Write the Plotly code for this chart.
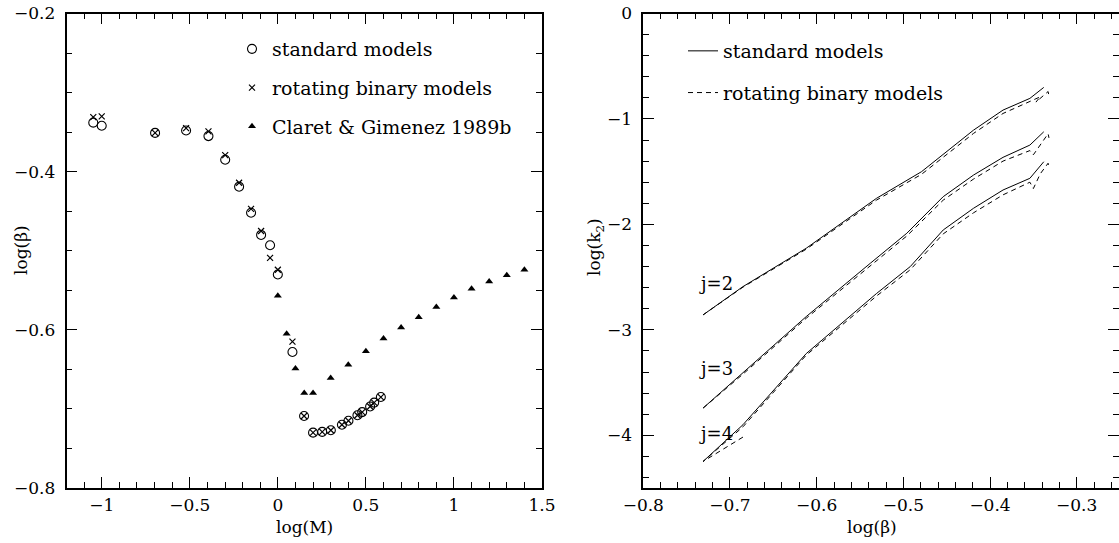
import plotly.graph_objects as go

# ---------------- Left panel data ----------------
std_logM = [-1.048, -1.0, -0.697, -0.521, -0.394, -0.299, -0.220, -0.152, -0.095, -0.044,
            0.0, 0.083, 0.149, 0.200, 0.252, 0.301, 0.364, 0.401, 0.452, 0.479, 0.524, 0.547, 0.585]
std_logb = [-0.338, -0.342, -0.351, -0.348, -0.355, -0.385, -0.419, -0.452, -0.480, -0.493,
            -0.530, -0.628, -0.709, -0.730, -0.729, -0.727, -0.720, -0.715, -0.708, -0.704, -0.697, -0.692, -0.685]

rot_logM = [-1.048, -1.0, -0.697, -0.521, -0.394, -0.299, -0.220, -0.152, -0.095, -0.044,
            0.0, 0.083, 0.149, 0.200, 0.252, 0.301, 0.364, 0.401, 0.452, 0.479, 0.524, 0.547, 0.585]
rot_logb = [-0.331, -0.330, -0.351, -0.345, -0.349, -0.379, -0.414, -0.447, -0.475, -0.509,
            -0.524, -0.615, -0.709, -0.730, -0.729, -0.727, -0.720, -0.715, -0.708, -0.704, -0.697, -0.692, -0.685]

cg_logM = [0.0, 0.05, 0.1, 0.15, 0.2, 0.3, 0.4, 0.5, 0.6, 0.7, 0.8, 0.9, 1.0, 1.1, 1.2, 1.3, 1.4]
cg_logb = [-0.557, -0.605, -0.649, -0.680, -0.680, -0.661, -0.644, -0.627, -0.611, -0.597,
           -0.584, -0.571, -0.559, -0.548, -0.539, -0.531, -0.524]

# ---------------- Right panel data ----------------
j2_std_b = [-0.731, -0.685, -0.612, -0.531, -0.479, -0.419, -0.385, -0.354, -0.338]
j2_std_k = [-2.858, -2.590, -2.226, -1.753, -1.500, -1.106, -0.916, -0.805, -0.701]
j2_rot_b = [-0.731, -0.685, -0.612, -0.531, -0.479, -0.419, -0.385, -0.354, -0.342, -0.347, -0.333, -0.332]
j2_rot_k = [-2.858, -2.595, -2.235, -1.770, -1.525, -1.137, -0.948, -0.837, -0.790, -0.840, -0.740, -0.780]

j3_std_b = [-0.731, -0.685, -0.612, -0.538, -0.496, -0.454, -0.419, -0.385, -0.354, -0.338]
j3_std_k = [-3.742, -3.410, -2.874, -2.368, -2.084, -1.737, -1.532, -1.364, -1.248, -1.122]
j3_rot_b = [-0.731, -0.685, -0.612, -0.538, -0.496, -0.454, -0.419, -0.385, -0.354, -0.350, -0.342, -0.333, -0.332]
j3_rot_k = [-3.742, -3.420, -2.890, -2.390, -2.110, -1.770, -1.570, -1.400, -1.300, -1.340, -1.240, -1.140, -1.180]

j4_std_b = [-0.731, -0.685, -0.612, -0.531, -0.492, -0.454, -0.419, -0.385, -0.354, -0.338]
j4_std_k = [-4.248, -3.900, -3.225, -2.656, -2.400, -2.053, -1.847, -1.674, -1.563, -1.406]
j4_rot_b = [-0.685, -0.731, -0.685, -0.612, -0.531, -0.492, -0.454, -0.419, -0.385, -0.354, -0.350, -0.342, -0.333, -0.332]
j4_rot_k = [-4.017, -4.248, -3.920, -3.240, -2.680, -2.430, -2.090, -1.890, -1.720, -1.600, -1.660, -1.520, -1.420, -1.470]

j_labels = ["j=2", "j=3", "j=4"]
j_label_k = [-2.558, -3.363, -3.979]

FONT = "DejaVu Serif"
W, H = 1119, 543

fig = go.Figure()

# Left panel
fig.add_trace(go.Scatter(x=std_logM, y=std_logb, mode="markers", name="standard models",
                         marker=dict(symbol="circle-open", size=9, color="black", line=dict(width=1.1)),
                         xaxis="x", yaxis="y", legend="legend", legendgroup="a"))
fig.add_trace(go.Scatter(x=rot_logM, y=rot_logb, mode="markers", name="rotating binary models",
                         marker=dict(symbol="x-thin", size=6, color="black", line=dict(width=1.2, color="black")),
                         xaxis="x", yaxis="y", legend="legend", legendgroup="b"))
fig.add_trace(go.Scatter(x=cg_logM, y=cg_logb, mode="markers", name="Claret & Gimenez 1989b",
                         marker=dict(symbol="triangle-up", size=7, color="black"),
                         xaxis="x", yaxis="y", legend="legend", legendgroup="c"))

# Right panel
dash = "5px,4px"
curves = [
    (j2_std_b, j2_std_k, j2_rot_b, j2_rot_k),
    (j3_std_b, j3_std_k, j3_rot_b, j3_rot_k),
    (j4_std_b, j4_std_k, j4_rot_b, j4_rot_k),
]
for i, (sb, sk, rb, rk) in enumerate(curves):
    fig.add_trace(go.Scatter(x=sb, y=sk, mode="lines", name="standard models",
                             line=dict(color="black", width=1),
                             xaxis="x2", yaxis="y2", legend="legend2", legendgroup="std",
                             showlegend=(i == 0)))
    fig.add_trace(go.Scatter(x=rb, y=rk, mode="lines", name="rotating binary models",
                             line=dict(color="black", width=1, dash=dash),
                             xaxis="x2", yaxis="y2", legend="legend2", legendgroup="rot",
                             showlegend=(i == 0)))

y_dom = [(H - 488) / H, (H - 13.5) / H]

def axis(domain, rng, dtick, minor_dtick, anchor, standoff):
    return dict(domain=domain, range=rng, dtick=dtick, tick0=0, anchor=anchor,
                ticks="inside", ticklen=11, tickwidth=1, tickcolor="black",
                showline=True, linecolor="black", linewidth=1.5, mirror="allticks",
                showgrid=False, zeroline=False, automargin=False,
                tickfont=dict(family=FONT, size=17, color="black"),
                ticklabelstandoff=standoff,
                minor=dict(ticks="inside", ticklen=6, tickwidth=1, tickcolor="black",
                           dtick=minor_dtick, tick0=0, showgrid=False))

fig.update_layout(
    width=W, height=H,
    margin=dict(l=0, r=0, t=0, b=0),
    paper_bgcolor="white", plot_bgcolor="white",
    xaxis=axis([66.5 / W, 542 / W], [-1.2, 1.5], 0.5, 0.1, "y", 1),
    yaxis=axis(y_dom, [-0.8, -0.2], 0.2, 0.05, "x", 6),
    xaxis2=axis([643.3 / W, 1.0], [-0.8, -0.2512], 0.1, 0.02, "y2", 1),
    yaxis2=axis(y_dom, [-4.5, 0], 1, 0.2, "x2", 6),
    legend=dict(x=232 / W, y=1 - 30 / H, xanchor="left", yanchor="top",
                bgcolor="rgba(0,0,0,0)", font=dict(family=FONT, size=19, color="black"),
                tracegroupgap=11, itemsizing="trace"),
    legend2=dict(x=683 / W, y=1 - 32 / H, xanchor="left", yanchor="top",
                 bgcolor="rgba(0,0,0,0)", font=dict(family=FONT, size=19, color="black"),
                 tracegroupgap=14),
    showlegend=True,
)

ann_font = dict(family=FONT, size=17, color="black")
annotations = [
    dict(text="log(M)", x=(66.5 + 542) / 2 / W, y=1 - 527 / H, xref="paper", yref="paper",
         showarrow=False, font=ann_font, xanchor="center", yanchor="middle"),
    dict(text="log(β)", x=21 / W, y=1 - 250 / H, xref="paper", yref="paper",
         showarrow=False, font=ann_font, textangle=-90, xanchor="center", yanchor="middle"),
    dict(text="log(β)", x=(643.3 + 1100) / 2 / W, y=1 - 527 / H, xref="paper", yref="paper",
         showarrow=False, font=ann_font, xanchor="center", yanchor="middle"),
    dict(text="log(k<sub>2</sub>)", x=595 / W, y=1 - 247 / H, xref="paper", yref="paper",
         showarrow=False, font=ann_font, textangle=-90, xanchor="center", yanchor="middle"),
]
for lab, k in zip(j_labels, j_label_k):
    annotations.append(dict(text=lab, x=-0.738, y=k, xref="x2", yref="y2", showarrow=False,
                            font=dict(family=FONT, size=18, color="black"),
                            xanchor="left", yanchor="middle"))
fig.update_layout(annotations=annotations)

fig.write_html("out.html")
